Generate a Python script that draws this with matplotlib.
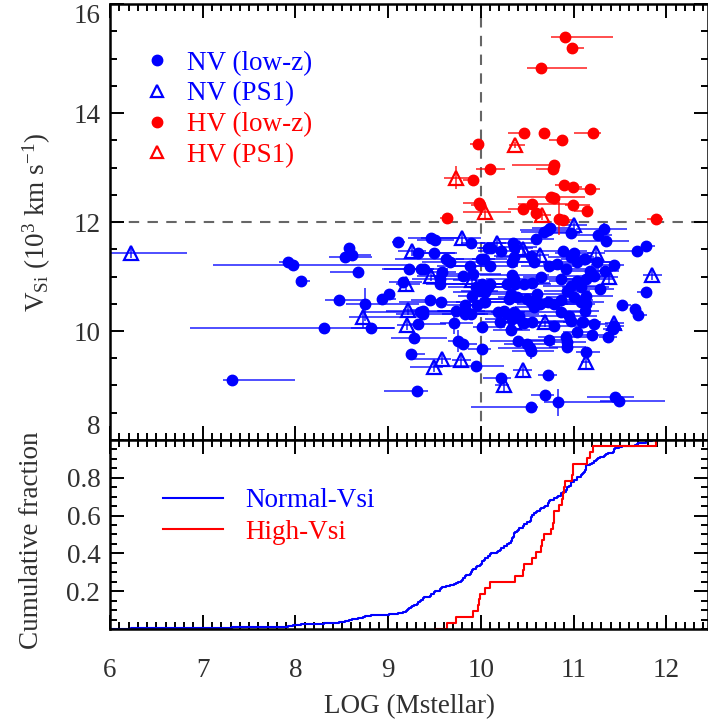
import numpy as np
import matplotlib
matplotlib.use("Agg")
import matplotlib.pyplot as plt
from matplotlib.lines import Line2D
from matplotlib.ticker import MultipleLocator

plt.rcParams['font.family'] = ['Liberation Serif', 'DejaVu Serif']
plt.rcParams['mathtext.fontset'] = 'custom'
plt.rcParams['mathtext.rm'] = 'Liberation Serif'
plt.rcParams['mathtext.it'] = 'Liberation Serif:italic'
FS = 19.5
plt.rcParams['font.size'] = FS

# ---- NV (low-z): log stellar mass, V_Si, x error (low, high), y error
nv_lowz_x = [7.32, 7.92, 7.97, 8.06, 8.31, 8.58, 8.53, 8.61, 8.67, 8.47, 8.75, 8.93, 9.01, 8.82,
             9.11, 9.31, 9.46, 9.51, 9.89, 9.32, 9.49, 9.62, 9.67, 9.23, 9.35, 9.39, 9.58, 9.81,
             9.56, 9.56, 9.16, 9.45, 9.57, 9.34, 9.38, 9.38, 9.32, 9.71, 9.73, 9.83, 9.89, 9.28,
             9.75, 9.81, 9.25, 9.95, 10.01, 10.01, 9.90, 10.00, 9.88, 9.92, 9.95, 10.01, 10.05,
             10.04, 10.08, 9.96, 9.99, 9.84, 9.83,
             10.72, 10.75, 10.68, 10.97, 10.59, 10.11, 10.22, 10.35, 10.36, 10.89, 11.00, 10.03,
             10.10, 10.34, 10.36, 10.54, 10.57, 10.73, 10.82, 10.97, 11.11, 11.04, 10.92, 10.65,
             10.34, 10.36, 10.28, 10.37, 10.10, 10.08, 10.46, 10.55, 10.86, 10.97, 11.08, 11.04,
             10.93, 11.00, 11.08, 11.13, 10.61, 10.64, 10.32, 10.39, 10.30, 10.50, 10.54, 10.57,
             10.72, 10.79, 10.86, 10.03, 10.18, 10.25, 10.28, 10.36, 10.34, 10.41, 10.21, 10.46,
             10.55, 10.79, 10.86, 10.95, 10.97, 11.09, 10.33, 11.04, 10.73, 10.40, 10.50, 10.53,
             10.54, 10.92, 10.93, 10.93, 11.13, 10.72, 10.22, 10.69, 10.83, 10.54,
             11.33, 11.26, 11.35, 11.78, 11.68, 11.12, 11.25, 11.44, 11.18, 11.22, 11.34, 11.13,
             11.29, 11.78, 11.13, 11.12, 11.52, 11.66, 11.69, 11.22, 11.10, 11.42, 11.20, 11.37,
             11.45, 11.49, 11.44]
nv_lowz_y = [9.11, 11.27, 11.22, 10.92, 10.05, 11.53, 11.35, 11.39, 11.08, 10.56, 10.49, 10.59, 10.68, 10.05,
             11.63, 8.90, 11.70, 11.67, 11.61, 11.43, 11.43, 11.33, 11.27, 11.14, 11.13, 11.13, 11.09, 11.01,
             10.95, 10.86, 10.90, 10.57, 10.53, 10.34, 10.37, 10.31, 10.13, 10.15, 10.37, 10.48, 10.31, 9.88,
             9.81, 9.77, 9.58, 9.36, 9.67, 10.08, 10.65, 11.32, 11.20, 11.04, 10.81, 10.87, 10.71,
             10.54, 11.53, 10.48, 10.74, 10.37, 10.31,
             11.85, 11.89, 11.82, 11.79, 11.68, 11.53, 11.47, 11.62, 11.55, 11.47, 11.43, 11.32,
             11.20, 11.26, 11.35, 11.38, 11.26, 11.20, 11.23, 11.35, 11.32, 11.26, 11.14, 11.00,
             11.03, 10.95, 10.86, 10.86, 10.86, 10.80, 10.86, 10.89, 10.95, 10.83, 10.80, 10.92,
             10.74, 10.62, 10.53, 10.65, 10.68, 10.50, 10.68, 10.62, 10.59, 10.59, 10.53, 10.44,
             10.53, 10.50, 10.56, 10.53, 10.34, 10.37, 10.31, 10.34, 10.22, 10.28, 10.16, 10.15,
             10.16, 10.10, 10.34, 10.28, 10.19, 10.16, 10.01, 9.98, 9.83, 9.81, 9.77, 9.68,
             9.64, 9.89, 9.80, 9.71, 9.62, 9.20, 9.14, 8.82, 8.69, 8.60,
             11.88, 11.76, 11.65, 11.56, 11.46, 11.32, 11.26, 11.21, 11.11, 11.01, 11.11, 10.95,
             10.77, 10.71, 10.50, 10.37, 10.47, 10.41, 10.30, 10.13, 10.16, 10.04, 9.93, 9.89,
             8.79, 8.72, 10.10]
nv_lowz_xlo = [0.10, 0.10, 0.86, 0.03, 1.45, 0.05, 0.17, 0.10, 0.30, 0.15, 0.20, 0.05, 0.03, 0.22,
               0.07, 0.35, 0.25, 0.20, 0.10, 0.05, 0.20, 0.55, 0.30, 0.30, 0.40, 0.10, 0.25, 0.35,
               0.30, 0.15, 0.15, 0.20, 0.45, 0.60, 0.40, 0.30, 0.10, 0.15, 0.20, 0.20, 0.15, 0.25,
               0.10, 0.10, 0.05, 0.45, 0.15, 0.10, 0.15, 0.10, 0.35, 0.40, 0.30, 0.50, 0.35,
               0.25, 0.10, 0.10, 0.20, 0.30, 0.25,
               0.30, 0.20, 0.25, 0.35, 0.40, 0.15, 0.25, 0.35, 0.15, 0.35, 0.20, 0.30,
               0.40, 0.30, 0.20, 0.40, 0.25, 0.30, 0.15, 0.25, 0.25, 0.35, 0.20, 0.20,
               0.35, 0.30, 0.50, 0.25, 0.30, 0.20, 0.30, 0.30, 0.20, 0.30, 0.20, 0.30,
               0.25, 0.30, 0.30, 0.25, 0.30, 0.25, 0.40, 0.20, 0.30, 0.40, 0.25, 0.20,
               0.35, 0.25, 0.30, 0.30, 0.30, 0.40, 0.35, 0.25, 0.30, 0.20, 0.20, 0.30,
               0.35, 0.25, 0.20, 0.30, 0.25, 0.20, 0.20, 0.15, 0.30, 0.30, 0.25, 0.35,
               0.20, 0.30, 0.25, 0.20, 0.10, 0.10, 0.20, 0.15, 0.15, 0.65,
               0.30, 0.25, 0.30, 0.05, 0.35, 0.20, 0.20, 0.25, 0.25, 0.30, 0.15, 0.25,
               0.20, 0.10, 0.30, 0.20, 0.05, 0.05, 0.05, 0.20, 0.20, 0.10, 0.20, 0.10,
               0.30, 0.20, 0.10]
nv_lowz_xhi = [0.68, 0.10, 1.23, 0.10, 0.75, 0.05, 0.30, 0.20, 0.03, 0.30, 0.58, 0.15, 0.05, 0.25,
               0.07, 0.12, 0.30, 0.20, 0.15, 0.40, 0.25, 0.20, 0.30, 0.20, 0.30, 0.10, 0.15, 0.15,
               0.20, 0.25, 0.20, 0.15, 0.20, 0.40, 0.30, 0.30, 0.30, 0.20, 0.20, 0.15, 0.15, 0.35,
               0.10, 0.15, 0.15, 0.30, 0.10, 0.25, 0.15, 0.15, 0.20, 0.30, 0.30, 0.30, 0.25,
               0.25, 0.10, 0.10, 0.20, 0.20, 0.25,
               0.30, 0.20, 0.35, 0.10, 0.20, 0.15, 0.20, 0.20, 0.25, 0.25, 0.20, 0.25,
               0.30, 0.30, 0.20, 0.10, 0.30, 0.30, 0.20, 0.25, 0.20, 0.35, 0.35, 0.25,
               0.40, 0.30, 0.35, 0.25, 0.30, 0.30, 0.30, 0.20, 0.25, 0.30, 0.30, 0.20,
               0.25, 0.20, 0.25, 0.30, 0.30, 0.30, 0.30, 0.25, 0.30, 0.25, 0.25, 0.30,
               0.30, 0.25, 0.35, 0.25, 0.30, 0.30, 0.35, 0.30, 0.25, 0.30, 0.30, 0.30,
               0.35, 0.30, 0.30, 0.30, 0.25, 0.20, 0.20, 0.15, 0.25, 0.30, 0.30, 0.30,
               0.25, 0.30, 0.20, 0.20, 0.15, 0.10, 0.10, 0.10, 0.60, 0.08,
               0.25, 0.15, 0.25, 0.10, 0.05, 0.15, 0.20, 0.10, 0.25, 0.20, 0.15, 0.30,
               0.15, 0.05, 0.10, 0.15, 0.10, 0.05, 0.10, 0.15, 0.20, 0.10, 0.20, 0.10,
               0.20, 0.50, 0.10]
# only a few points show vertical error bars
nv_lowz_yerr = {10: 0.30, 37: 0.20, 42: 0.20, 133: 0.15, 140: 0.10, 141: 0.25, 143: 0.10,
                171: 0.15, 172: 0.15}

# ---- NV (PS1)
nv_ps1_x = [6.23, 8.73, 9.80, 9.26, 9.46, 9.19, 9.21, 9.20, 9.58, 9.49, 9.79, 9.90, 11.00,
            10.17, 10.41, 10.45, 10.64, 10.69, 10.36, 11.13, 10.45, 10.25, 11.24, 11.38, 11.85, 11.44]
nv_ps1_y = [11.44, 10.25, 11.70, 11.47, 11.01, 10.86, 10.39, 10.11, 9.49, 9.34, 9.46, 10.94, 11.94,
            11.62, 11.53, 11.50, 11.39, 10.17, 10.16, 9.43, 9.28, 9.00, 11.44, 10.99, 11.03, 10.15]
nv_ps1_xlo = [0.30, 0.15, 0.45, 0.15, 0.15, 0.10, 0.05, 0.10, 0.35, 0.25, 0.10, 0.20, 0.10,
              0.10, 0.10, 0.10, 0.10, 0.10, 0.10, 0.05, 0.10, 0.10, 0.10, 0.10, 0.10, 0.10]
nv_ps1_xhi = [0.60, 0.40, 0.20, 0.15, 0.15, 0.15, 0.10, 0.10, 0.10, 0.10, 0.10, 0.15, 0.15,
              0.10, 0.15, 0.05, 0.10, 0.10, 0.10, 0.05, 0.10, 0.05, 0.10, 0.10, 0.10, 0.10]
nv_ps1_yerr = [0.10, 0.20, 0.10, 0.10, 0.10, 0.10, 0.10, 0.10, 0.10, 0.10, 0.10, 0.10, 0.10,
               0.10, 0.10, 0.10, 0.10, 0.10, 0.10, 0.15, 0.10, 0.10, 0.10, 0.10, 0.10, 0.10]

# ---- HV (low-z)
hv_lowz_x = [10.91, 10.98, 10.65, 10.46, 10.68, 11.21, 10.88, 9.97, 10.79, 10.78, 10.10, 9.91,
             10.90, 10.99, 11.18, 10.76, 10.79, 9.98, 9.99, 10.55, 10.99, 10.45, 10.59, 11.15,
             9.64, 10.84, 10.89, 11.89]
hv_lowz_y = [15.39, 15.19, 14.83, 13.63, 13.64, 13.64, 13.51, 13.44, 13.04, 12.97, 12.97, 12.77,
             12.68, 12.65, 12.61, 12.46, 12.44, 12.34, 12.32, 12.33, 12.32, 12.23, 12.16, 12.21,
             12.07, 12.06, 12.03, 12.05]
hv_lowz_xlo = [0.15, 0.05, 0.15, 0.17, 0.00, 0.20, 0.14, 0.09, 0.45, 0.18, 0.15, 0.10,
               0.10, 0.05, 0.14, 0.37, 0.10, 0.17, 0.10, 0.15, 0.08, 0.16, 0.05, 0.15,
               0.08, 0.05, 0.05, 0.10]
hv_lowz_xhi = [0.52, 0.13, 0.49, 0.00, 0.00, 0.09, 0.00, 0.04, 0.05, 0.00, 0.16, 0.07,
               0.07, 0.10, 0.10, 0.36, 0.05, 0.05, 0.05, 0.45, 0.19, 0.08, 0.05, 0.03,
               0.05, 0.10, 0.10, 0.08]
hv_lowz_yerr = {25: 0.30}

# ---- HV (PS1)
hv_ps1_x = [10.37, 9.73, 10.04, 10.66]
hv_ps1_y = [13.41, 12.81, 12.18, 12.12]
hv_ps1_xlo = [0.07, 0.13, 0.23, 0.10]
hv_ps1_xhi = [0.11, 0.14, 0.28, 0.10]
hv_ps1_yerr = [0.05, 0.21, 0.10, 0.08]

TXT = '#303030'
XMIN, XMAX = 6.0, 12.45


def yerr_list(n, sparse):
    return [sparse.get(i, 0.0) for i in range(n)]


def draw_group(ax, x, y, xlo, xhi, yerr, color, marker, filled):
    ax.errorbar(x, y, xerr=[xlo, xhi], yerr=yerr, fmt='none', ecolor=color,
                elinewidth=1.3, alpha=0.75, capsize=0, zorder=2)
    if filled:
        ax.plot(x, y, ls='none', marker=marker, ms=7.5, color=color, mec=color, zorder=3)
    else:
        ax.plot(x, y, ls='none', marker=marker, ms=10, mfc='none', mec=color, mew=1.6, zorder=3)


def style_axis(ax):
    ax.tick_params(which='both', direction='in', top=True, right=True, width=1.4,
                   colors='black', labelcolor=TXT, labelsize=FS)
    ax.tick_params(which='major', length=10)
    ax.tick_params(which='minor', length=5)
    ax.tick_params(axis='x', pad=21)
    ax.tick_params(axis='y', pad=7)
    for s in ax.spines.values():
        s.set_linewidth(1.8)
    ax.xaxis.set_major_locator(MultipleLocator(1))
    ax.xaxis.set_minor_locator(MultipleLocator(0.1))


fig = plt.figure(figsize=(7.08, 7.2), dpi=100)
ax1 = fig.add_axes([0.1554, 0.3889, 0.8446, 0.6055])
ax2 = fig.add_axes([0.1554, 0.1264, 0.8446, 0.2625], sharex=ax1)

# top panel: velocity vs host mass
draw_group(ax1, nv_lowz_x, nv_lowz_y, nv_lowz_xlo, nv_lowz_xhi,
           yerr_list(len(nv_lowz_x), nv_lowz_yerr), 'blue', 'o', True)
draw_group(ax1, nv_ps1_x, nv_ps1_y, nv_ps1_xlo, nv_ps1_xhi, nv_ps1_yerr, 'blue', '^', False)
draw_group(ax1, hv_lowz_x, hv_lowz_y, hv_lowz_xlo, hv_lowz_xhi,
           yerr_list(len(hv_lowz_x), hv_lowz_yerr), 'red', 'o', True)
draw_group(ax1, hv_ps1_x, hv_ps1_y, hv_ps1_xlo, hv_ps1_xhi, hv_ps1_yerr, 'red', '^', False)

ax1.axvline(10, color='#666666', lw=1.5, dashes=(5, 4), zorder=1)
ax1.axhline(12, color='#666666', lw=1.5, dashes=(5, 4), zorder=1)

ax1.set_xlim(XMIN, XMAX)
ax1.set_ylim(8, 16)
style_axis(ax1)
ax1.set_yticks([8, 10, 12, 14, 16])
ax1.yaxis.set_minor_locator(MultipleLocator(0.5))
ax1.tick_params(axis='x', labelbottom=False)
ylabs = ax1.get_yticklabels()
ylabs[0].set_va('bottom')
ylabs[-1].set_va('top')
ax1.set_ylabel(r'V$_{\mathrm{Si}}$ (10$^{3}$ km s$^{-1}$)', color=TXT)
ax1.yaxis.set_label_coords(-0.095, 0.5)

handles = [Line2D([], [], ls='none', marker='o', ms=7.5, color='blue'),
           Line2D([], [], ls='none', marker='^', ms=8, mfc='none', mec='blue', mew=1.6),
           Line2D([], [], ls='none', marker='o', ms=7.5, color='red'),
           Line2D([], [], ls='none', marker='^', ms=8, mfc='none', mec='red', mew=1.6)]
ax1.legend(handles, ['NV (low-z)', 'NV (PS1)', 'HV (low-z)', 'HV (PS1)'],
           loc='upper left', bbox_to_anchor=(0.06, 0.893), frameon=False,
           labelcolor=['blue', 'blue', 'red', 'red'], handlelength=0.8,
           handletextpad=0.70, labelspacing=0.21, borderpad=0, borderaxespad=0,
           fontsize=FS)

# bottom panel: cumulative distributions
normal_mass = np.sort(np.array(nv_lowz_x + nv_ps1_x))
high_mass = np.sort(np.array(hv_lowz_x + hv_ps1_x))
for arr, color, start, label in [(normal_mass, 'blue', XMIN, 'Normal-Vsi'),
                                  (high_mass, 'red', high_mass[0] - 0.12, 'High-Vsi')]:
    frac = np.arange(1, len(arr) + 1) / len(arr)
    ax2.step(np.concatenate([[start], arr]), np.concatenate([[0], frac]),
             where='post', color=color, lw=1.5, label=label)

ax2.set_ylim(0, 1.0)
style_axis(ax2)
ax2.set_yticks([0.2, 0.4, 0.6, 0.8])
ax2.yaxis.set_minor_locator(MultipleLocator(0.05))
ax2.set_ylabel('Cumulative fraction', color=TXT)
ax2.yaxis.set_label_coords(-0.11, 0.47)
ax2.set_xlabel('LOG (Mstellar)', color=TXT, labelpad=8)
ax2.legend(loc='upper left', bbox_to_anchor=(0.0886, 0.745), frameon=False,
           labelcolor='linecolor', handlelength=2.2, handletextpad=0.85,
           labelspacing=0.25, borderpad=0, borderaxespad=0, fontsize=FS)

fig.savefig('out.png', dpi=100)
